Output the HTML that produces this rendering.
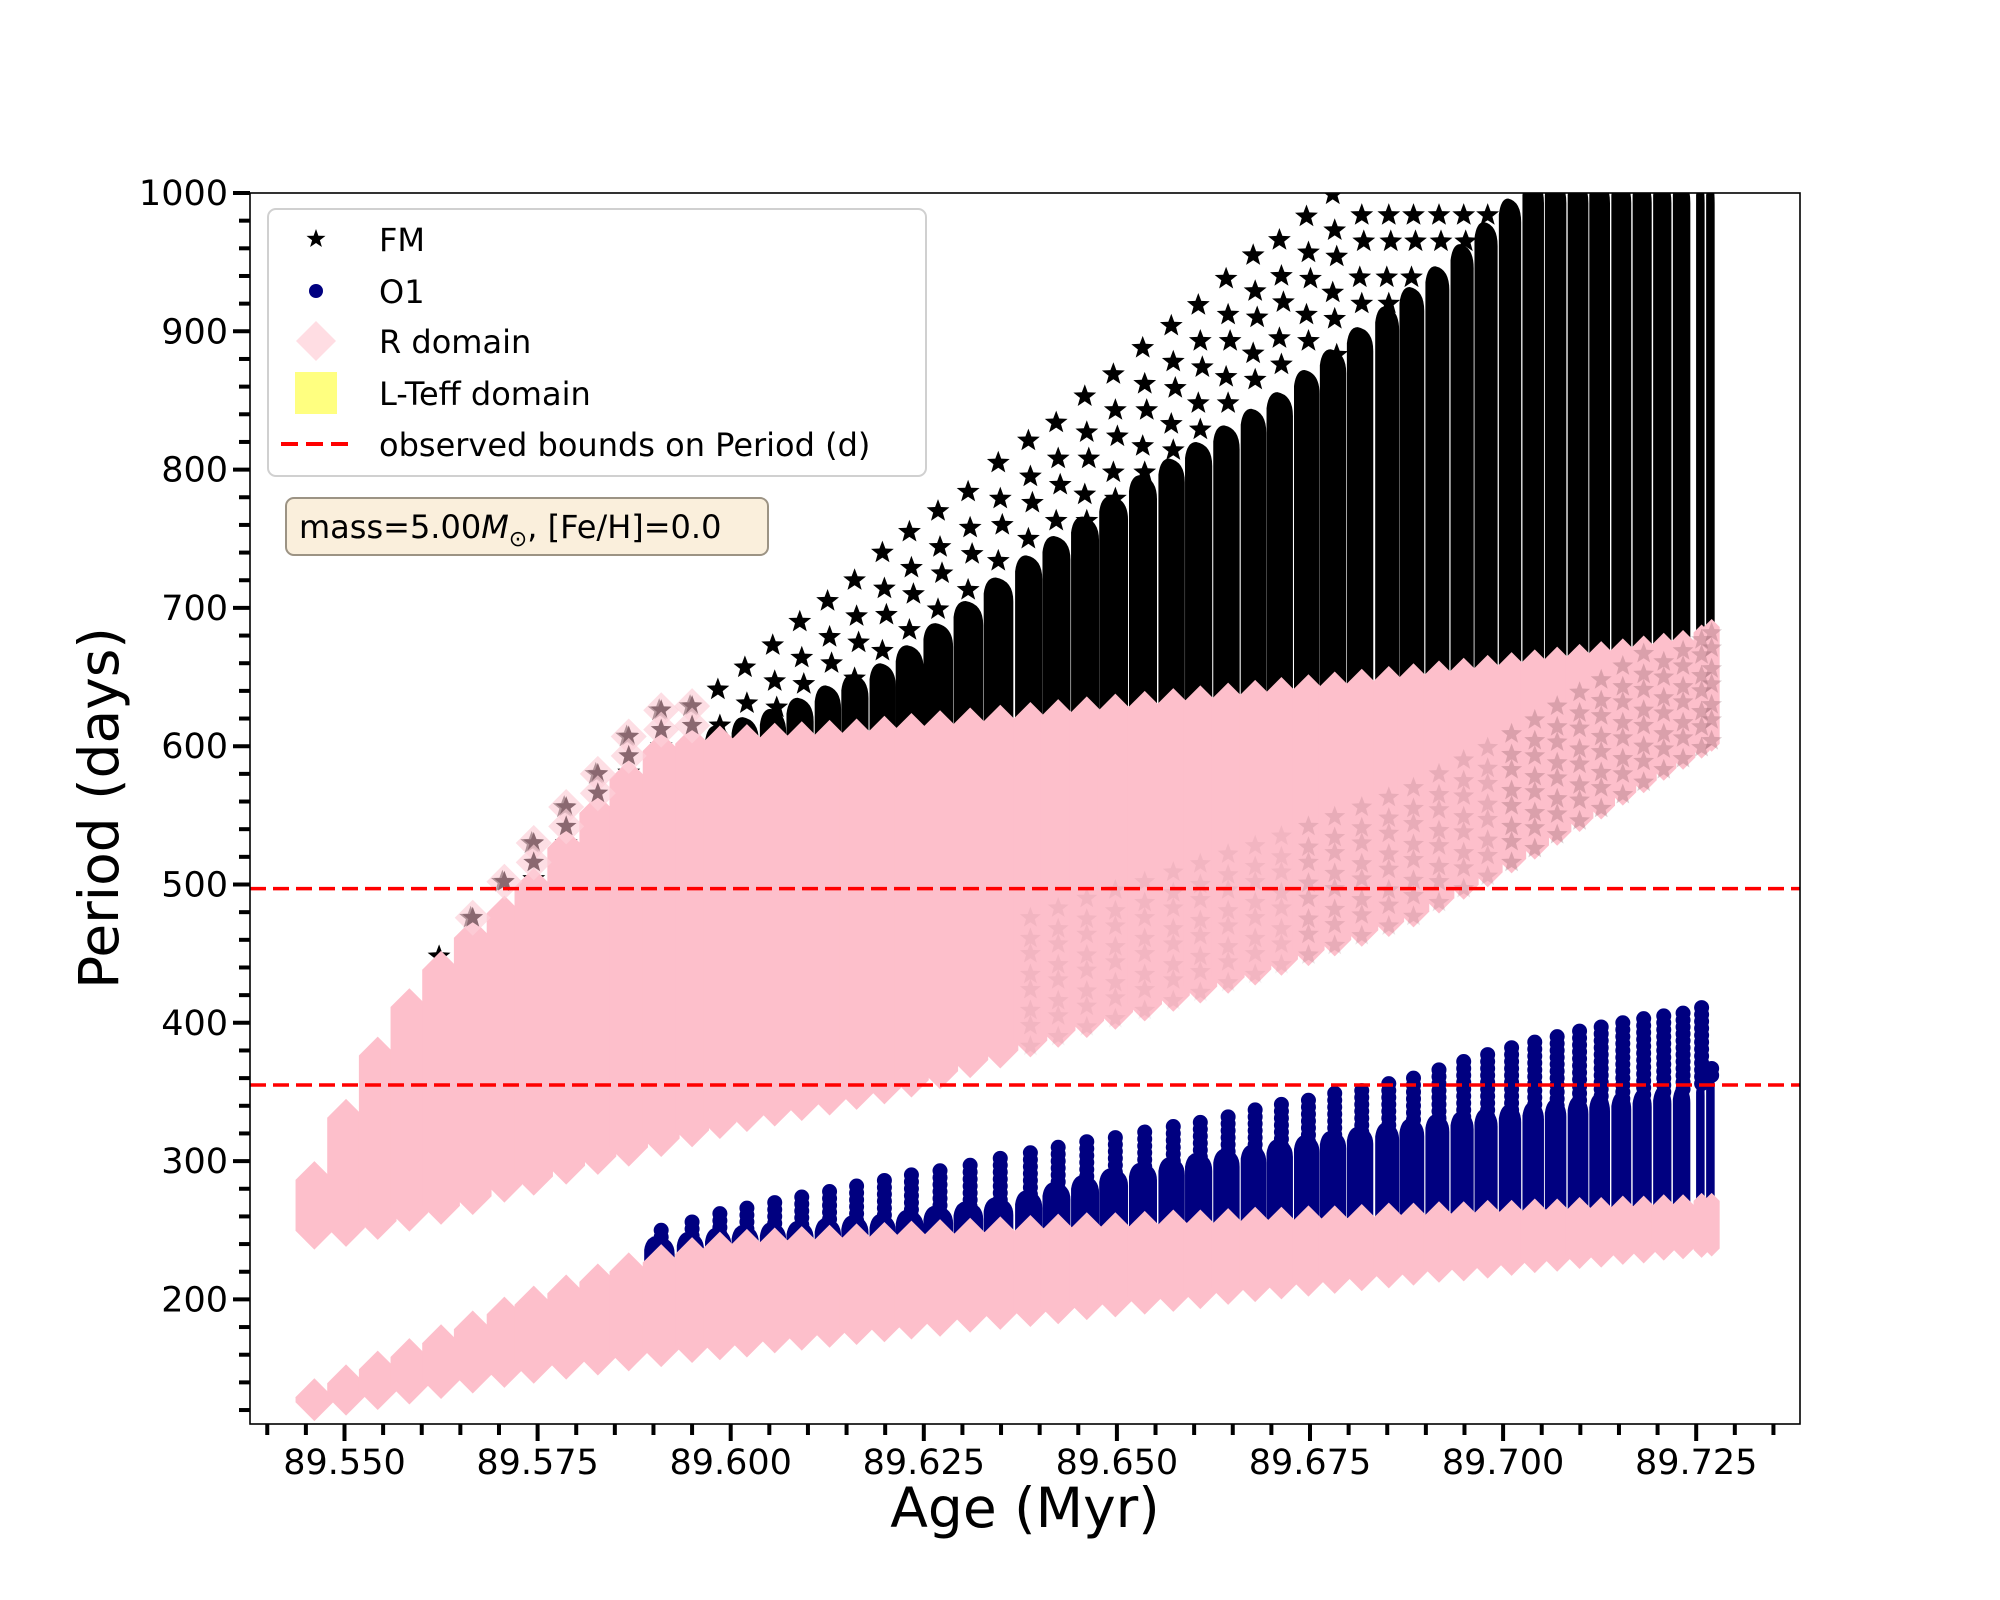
<!DOCTYPE html>
<html><head><meta charset="utf-8"><style>
html,body{margin:0;padding:0;background:#fff;}
svg{display:block;font-family:"DejaVu Sans","Liberation Sans",sans-serif;}
</style></head><body>
<svg id="chart" width="2000" height="1600" viewBox="0 0 2000 1600" xmlns="http://www.w3.org/2000/svg">
<defs><clipPath id="pc"><rect x="250" y="193" width="1550" height="1231"/></clipPath></defs>
<g id="plot" clip-path="url(#pc)"></g>
<g id="axes"></g>
<text x="1025" y="1527" text-anchor="middle" font-size="55" fill="#000">Age (Myr)</text>
<text x="0" y="0" transform="translate(118,808) rotate(-90)" text-anchor="middle" font-size="55" fill="#000">Period (days)</text>
</svg>
<script>
// ---- data ----
const cycleAges=[89.5461,89.5502,89.5543,89.5584,89.5625,89.5666,89.5707,89.5745,89.5787,89.5828,89.5868,89.5910,89.5950,89.5986,89.6021,89.6057,89.6092,89.6128,89.6163,89.6199,89.6234,89.6271,89.6310,89.6349,89.6388,89.6424,89.6461,89.6498,89.6536,89.6573,89.6608,89.6644,89.6679,89.6713,89.6748,89.6782,89.6817,89.6852,89.6884,89.6917,89.6949,89.6980,89.7011,89.7041,89.7070,89.7099,89.7127,89.7155,89.7182,89.7208,89.7233,89.7257,89.7270];
const fmHump=[null,null,null,null,null,null,null,null,null,null,null,null,null,615,621,627,635,644,652,660,673,689,705,722,738,752,766,781,796,808,820,832,844,856,872,887,903,918,932,947,963,979,996,1010,1010,1010,1010,1010,1010,1010,1010,1010,1010];
const fmStarTop=[null,null,null,null,448,476,502,530,556,580,607,626,629,641,657,673,690,705,720,740,755,770,784,805,821,834,853,869,888,904,919,938,955,966,983,999,1010,1010,1010,1010,1010,1010,1010,1010,1010,1010,1010,1010,1010,1010,1010,1010,1010];
const rTopUpper=[300,345,390,425,452,475,492,512,540,565,590,610,614,615,616,617,618,619,620,622,624,626,628,630,632,634,636,638,640,642,644,646,648,650,652,654,656,658,660,662,664,666,668,670,672,674,676,678,680,682,684,688,692];
const rBotUpper=[236,238,243,249,254,261,270,275,283,290,296,303,310,316,321,325,329,333,337,341,346,352,360,367,375,382,389,395,401,408,414,421,427,434,441,448,455,462,469,479,489,498,508,518,528,538,547,557,566,575,583,591,596];
const rTopLower=[143,153,163,172,182,192,202,210,218,226,234,240,245,249,251,252,253,254,255,256,257,258,259,260,261,262,263,263,264,265,265,266,267,267,268,268,269,270,270,271,271,272,272,273,273,274,274,275,275,276,276,277,277];
const rBotLower=[112,116,120,124,128,132,136,139,142,145,148,151,154,156,158,161,163,165,167,169,171,173,176,178,180,182,185,187,189,191,193,196,198,200,202,204,206,208,210,212,213,215,217,219,220,222,223,225,226,228,229,230,231];
const o1Hump=[null,null,null,null,null,null,null,null,null,null,null,246,249,252,254,256,257,259,261,262,265,268,271,274,279,285,290,295,299,303,306,309,312,316,319,322,325,328,331,334,336,338,341,343,345,347,349,350,352,354,355,360,366];
const o1SpikeTop=[null,null,null,null,null,null,null,null,null,null,null,250,256,262,266,270,274,278,282,286,290,293,297,302,306,310,314,317,321,325,328,332,337,341,344,349,351,356,360,366,372,377,382,386,390,394,397,400,403,405,407,411,367];
const observedBounds=[497,355];
const xTicks=[89.550,89.575,89.600,89.625,89.650,89.675,89.700,89.725];
const xTickLabels=["89.550","89.575","89.600","89.625","89.650","89.675","89.700","89.725"];
const yTicks=[200,300,400,500,600,700,800,900,1000];
const yTickLabels=["200","300","400","500","600","700","800","900","1000"];

// ---- axes ----
const L=250,R=1800,T=193,B=1424;
const X=a=>344.5+(a-89.55)/0.025*193.1;
const Y=p=>193+(1000-p)*1.383;
const NS="http://www.w3.org/2000/svg";
const plot=document.getElementById('plot'),axes=document.getElementById('axes');
function mk(tag,attrs,parent){const e=document.createElementNS(NS,tag);for(const k in attrs)e.setAttribute(k,attrs[k]);parent.appendChild(e);return e;}
function starPath(cx,cy,r){let d='';for(let k=0;k<10;k++){const rr=k%2?r*0.42:r;const an=-Math.PI/2+k*Math.PI/5;d+=(k?'L':'M')+(cx+rr*Math.cos(an)).toFixed(1)+','+(cy+rr*Math.sin(an)).toFixed(1);}return d+'Z';}
function sp(i){const n=cycleAges.length;const a=i<n-1?cycleAges[i+1]-cycleAges[i]:cycleAges[i]-cycleAges[i-1];return X(cycleAges[0]+a)-X(cycleAges[0]);}

// FM bars and stars
const fmG=mk('g',{},plot);


cycleAges.forEach((a,i)=>{
  const c=X(a),w=sp(i);
  if(fmHump[i]!==null){
    const l=c-w*0.55,r=c+w*0.5-2,ht=Y(fmHump[i]),bt=Y(rBotUpper[i]+30);
    const p=mk('path',{d:`M${l},${bt}L${l},${ht+16}Q${l+2},${ht} ${l+w*0.4},${ht}Q${r},${ht+3} ${r},${ht+24}L${r},${bt}Z`,fill:'#000'},fmG);
    
    
  }
  if(fmStarTop[i]!==null){
    const low=fmHump[i]!==null?fmHump[i]:rTopUpper[i]-10;
    for(let v=fmStarTop[i],k=0;v>low-5;v-=(k%2?19:26),k++){
      const s=mk('path',{d:starPath(c+(k%3-1)*2,Y(v),12),fill:'#000'},fmG);
      
      
    }
  }
});

// O1 bars and dots
const o1G=mk('g',{},plot);


cycleAges.forEach((a,i)=>{
  if(o1Hump[i]===null)return;
  const c=X(a),w=sp(i);
  const l=c-w*0.55,r=c+w*0.5-2,ht=Y(o1Hump[i]),bt=Y(rTopLower[i]-15);
  const p=mk('path',{d:`M${l},${bt}L${l},${ht+14}Q${l+2},${ht} ${l+w*0.45},${ht}Q${r},${ht+3} ${r},${ht+18}L${r},${bt}Z`,fill:'#000080'},o1G);
  
  
  for(let v=o1SpikeTop[i];v>o1Hump[i]-8;v-=5){
    const d=mk('circle',{cx:c,cy:Y(v),r:7.5,fill:'#000080'},o1G);
    
    
  }
});

// R domain pink columns
const rG=mk('g',{},plot);


function pinkCol(c,hw,top,bot){
  const t=Y(top),b=Y(bot);
  return `M${c},${t}L${c+hw},${t+hw}L${c+hw},${b-hw}L${c},${b}L${c-hw},${b-hw}L${c-hw},${t+hw}Z`;
}
cycleAges.forEach((a,i)=>{
  const c=X(a),hw=sp(i)/2+3;
  const u=mk('path',{d:pinkCol(c,hw,rTopUpper[i],rBotUpper[i]),fill:'#fdbfcb'},rG);
  
  
  const lw=mk('path',{d:pinkCol(c,hw,rTopLower[i],rBotLower[i]),fill:'#fdbfcb'},rG);
  
  
});
// faint FM stars seen through R domain
cycleAges.forEach((a,i)=>{
  const c=X(a);
  if(i<=12 && fmStarTop[i]!==null){
    for(let v=fmStarTop[i],k=0;v>rTopUpper[i]-4;v-=14,k++){
      mk('path',{d:`M${c},${Y(v)-18}L${c+18},${Y(v)}L${c},${Y(v)+18}L${c-18},${Y(v)}Z`,fill:'#fcd0d8',opacity:0.7},rG);
      const s=mk('path',{d:starPath(c,Y(v),11),fill:'#8a6870'},rG);
      
      
    }
  }
  if(i>=24){
    const op=i>=42?0.3:(i>=34?0.18:0.09);
    for(let v=rBotUpper[i]+8,k=0;v<Math.min(rTopUpper[i]-8,rBotUpper[i]+110);v+=(k%2?11:15),k++){
      const s=mk('path',{d:starPath(c,Y(v),11),fill:'#8a5a64',opacity:op},rG);
      
      
    }
  }
});

// observed bounds
observedBounds.forEach(v=>{
  const ln=mk('line',{x1:L,x2:R,y1:Y(v),y2:Y(v),stroke:'#ff0000','stroke-width':3.5,'stroke-dasharray':'16 7'},plot);
  
  
});

// frame
const fr=mk('rect',{x:L,y:T,width:R-L,height:B-T,fill:'none',stroke:'#000','stroke-width':1.6},axes);


for(let v=120;v<=1000;v+=20){
  const major=v%100===0;
  const t=mk('line',{x1:L-(major?17:11),x2:L,y1:Y(v),y2:Y(v),stroke:'#000','stroke-width':4},axes);
  
  
}
yTicks.forEach((v,i)=>{
  const tx=mk('text',{x:228,y:Y(v)+12,'text-anchor':'end','font-size':35,fill:'#000'},axes);
  tx.textContent=yTickLabels[i];
  
  
});
for(let k=0;k<=39;k++){
  const a=89.540+k*0.005;const x=X(a);if(x<L||x>R)continue;
  const major=k%5===2;
  const t=mk('line',{x1:x,x2:x,y1:B,y2:B+(major?17:11),stroke:'#000','stroke-width':4},axes);
  
  
}
xTicks.forEach((a,i)=>{
  const tx=mk('text',{x:X(a),y:1474,'text-anchor':'middle','font-size':35,fill:'#000'},axes);
  tx.textContent=xTickLabels[i];
  
  
});

const svg=document.getElementById('chart');
const lg=document.createElementNS(NS,'g');


lg.innerHTML=`<rect x="268" y="209" width="658" height="267" rx="8" fill="#fff" fill-opacity="0.85" stroke="#d0d0d0" stroke-width="2"/>
<path d="M316,229 L318.4,235.7 L325.5,235.9 L319.9,240.2 L321.9,247 L316,243 L310.1,247 L312.1,240.2 L306.5,235.9 L313.6,235.7Z" fill="#000"/>
<circle cx="316" cy="291" r="7" fill="#000080"/>
<path d="M316,321 L336,341 L316,361 L296,341Z" fill="#ffdde3"/>
<rect x="295" y="372" width="42" height="42" fill="#ffff80"/>
<line x1="281" x2="351" y1="444" y2="444" stroke="#ff0000" stroke-width="4" stroke-dasharray="17 8"/>
<g font-size="32" fill="#000">
<text x="379" y="251">FM</text>
<text x="379" y="303">O1</text>
<text x="379" y="353">R domain</text>
<text x="379" y="405">L-Teff domain</text>
<text x="379" y="456">observed bounds on Period (d)</text>
</g>`;
svg.appendChild(lg);
const tb=document.createElementNS(NS,'g');


tb.innerHTML=`<rect x="286" y="498" width="482" height="57" rx="8" fill="#faefdc" stroke="#9c9384" stroke-width="2"/>
<text x="299" y="538" font-size="32" fill="#000">mass=5.00<tspan font-style="italic">M</tspan><tspan font-size="22" dy="8">⊙</tspan><tspan dy="-8">, [Fe/H]=0.0</tspan></text>`;
svg.appendChild(tb);
</script>
</body></html>
